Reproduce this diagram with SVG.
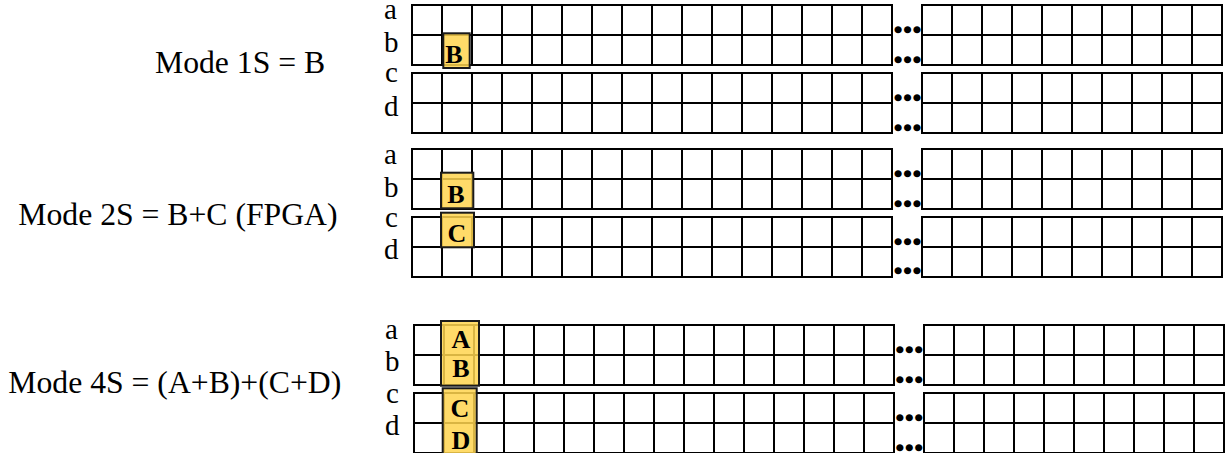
<svg xmlns="http://www.w3.org/2000/svg" xmlns:xlink="http://www.w3.org/1999/xlink" width="1225" height="453" viewBox="0 0 1225 453">
<style>
.lbl{font-family:"Liberation Serif","Times New Roman",serif;font-size:31.7px;fill:#000}
.row{font-family:"Liberation Serif","Times New Roman",serif;font-size:29px;fill:#000}
.cell{fill:#fff;stroke:#000;stroke-width:2}
.ln{fill:none;stroke:#000;stroke-width:2}
.dots{font-family:"Liberation Serif","Times New Roman",serif;font-size:28px;font-weight:bold;fill:#000;stroke:#000;stroke-width:2.6;stroke-linejoin:round;text-anchor:middle}
.hl{fill:#FFD54F;fill-opacity:0.85;stroke:#1a1a1a;stroke-width:2}
.hlt{font-family:"Liberation Serif","Times New Roman",serif;font-size:26px;font-weight:bold;fill:#000;text-anchor:middle}
</style>
<defs>
<g id="pair">
<rect class="cell" x="0" y="0" width="480" height="60"/>
<path class="ln" d="M0 30H480M30 0V60M60 0V60M90 0V60M120 0V60M150 0V60M180 0V60M210 0V60M240 0V60M270 0V60M300 0V60M330 0V60M360 0V60M390 0V60M420 0V60M450 0V60"/>
<rect class="cell" x="510" y="0" width="300" height="60"/>
<path class="ln" d="M510 30H810M540 0V60M570 0V60M600 0V60M630 0V60M660 0V60M690 0V60M720 0V60M750 0V60M780 0V60"/>
</g>
</defs>

<g id="mode1">
<text class="lbl" x="155" y="73.3">Mode 1S = B</text>
<text class="row" x="384" y="19">a</text>
<text class="row" x="384" y="51.5">b</text>
<text class="row" x="385" y="82">c</text>
<text class="row" x="384" y="116">d</text>
<use xlink:href="#pair" href="#pair" transform="translate(412,5)"/>
<use xlink:href="#pair" href="#pair" transform="translate(412,73)"/>
<text class="dots" x="907.5" y="32">…</text>
<text class="dots" x="907.5" y="62">…</text>
<text class="dots" x="907.5" y="100">…</text>
<text class="dots" x="907.5" y="130">…</text>
<rect class="hl" x="443.3" y="33.3" width="26.4" height="34.7"/>
<text class="hlt" x="454" y="63">B</text>
</g>

<g id="mode2">
<text class="lbl" x="18.3" y="225">Mode 2S = B+C (FPGA)</text>
<text class="row" x="384" y="164">a</text>
<text class="row" x="384" y="197">b</text>
<text class="row" x="385" y="227">c</text>
<text class="row" x="384" y="259">d</text>
<use xlink:href="#pair" href="#pair" transform="translate(412,149)"/>
<use xlink:href="#pair" href="#pair" transform="translate(412,217)"/>
<text class="dots" x="907.5" y="176">…</text>
<text class="dots" x="907.5" y="205.5">…</text>
<text class="dots" x="907.5" y="243.5">…</text>
<text class="dots" x="907.5" y="273">…</text>
<rect class="hl" x="441" y="172.7" width="32.3" height="35.6"/>
<rect class="hl" x="441" y="212.7" width="33" height="34.6"/>
<text class="hlt" x="456" y="203">B</text>
<text class="hlt" x="457" y="241.5">C</text>
</g>

<g id="mode4">
<text class="lbl" x="8.3" y="393.3">Mode 4S = (A+B)+(C+D)</text>
<text class="row" x="385" y="338.5">a</text>
<text class="row" x="385" y="371">b</text>
<text class="row" x="386" y="403">c</text>
<text class="row" x="385" y="435">d</text>
<use xlink:href="#pair" href="#pair" transform="translate(414,325)"/>
<use xlink:href="#pair" href="#pair" transform="translate(414,393)"/>
<text class="dots" x="909.2" y="352">…</text>
<text class="dots" x="909.2" y="382">…</text>
<text class="dots" x="909.2" y="420">…</text>
<text class="dots" x="909.2" y="450">…</text>
<rect class="hl" x="441" y="321" width="38" height="64.7"/>
<rect class="hl" x="442.7" y="388.3" width="34" height="70"/>
<text class="hlt" x="461" y="347.5">A</text>
<text class="hlt" x="461" y="376.5">B</text>
<text class="hlt" x="460" y="416.5">C</text>
<text class="hlt" x="461" y="448.5">D</text>
</g>
</svg>
